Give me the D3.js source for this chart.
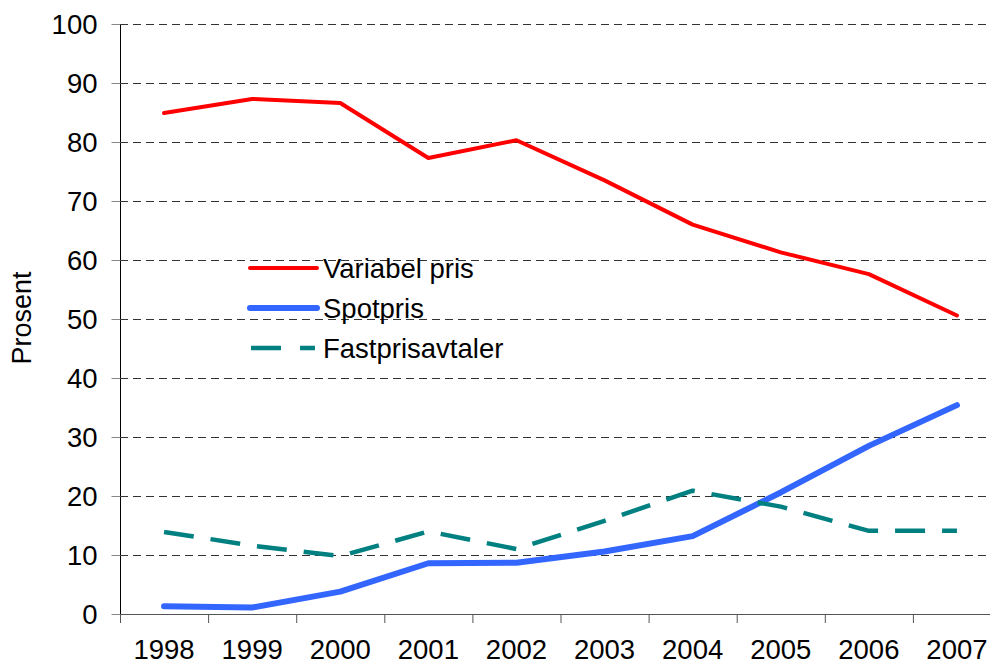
<!DOCTYPE html>
<html>
<head>
<meta charset="utf-8">
<script src="https://cdn.jsdelivr.net/npm/d3@7"></script>
<style>
  body { margin: 0; background: #fff; overflow: hidden; }
  svg { display: block; font-family: "Liberation Sans", Arial, sans-serif; }
</style>
</head>
<body>
<svg id="chart" width="990" height="667"></svg>
<script>
const years = ["1998", "1999", "2000", "2001", "2002", "2003", "2004", "2005", "2006", "2007"];
const variabelPris = [84.9, 87.3, 86.6, 77.3, 80.3, 73.5, 66.0, 61.3, 57.6, 50.6];
const spotpris = [1.3, 1.1, 3.8, 8.6, 8.7, 10.6, 13.2, 20.6, 28.5, 35.4];
const fastpris = [13.9, 11.6, 9.8, 14.0, 11.0, 15.8, 20.9, 18.2, 14.1, 14.1];
const yTicks = [0, 10, 20, 30, 40, 50, 60, 70, 80, 90, 100];

const series = [
  { name: "Variabel pris", values: variabelPris, color: "#ff0000", width: 4, dash: null },
  { name: "Spotpris", values: spotpris, color: "#3366ff", width: 6, dash: null },
  { name: "Fastprisavtaler", values: fastpris, color: "#008080", width: 4.5, dash: "30,17" }
];

const svg = d3.select("#chart");
const margin = { left: 120, top: 24 },
  w = 881,
  h = 590;

const g = svg.append("g").attr("transform", `translate(${margin.left},${margin.top})`);

const x = d3.scaleBand().domain(years).range([0, w]);
const y = d3.scaleLinear().domain([0, 100]).range([h, 0]);

// gridlines
g.append("g")
  .selectAll("line")
  .data(yTicks.filter((d) => d > 0))
  .join("line")
  .attr("x1", 0)
  .attr("x2", w)
  .attr("y1", (d) => y(d) + 0.5)
  .attr("y2", (d) => y(d) + 0.5)
  .attr("stroke", "#333")
  .attr("stroke-width", 1)
  .attr("stroke-dasharray", "8,5");

// y axis
const yAxis = g.append("g")
  .attr("transform", "translate(0.5,0)")
  .call(d3.axisLeft(y).tickValues(yTicks).tickSize(9).tickPadding(14));
yAxis.select(".domain").attr("stroke", "#000").attr("d", `M0,${y(100)}V${y(0)}`);
yAxis.selectAll(".tick line").attr("stroke", "#888");
yAxis.selectAll(".tick text").attr("font-size", 27.5).attr("fill", "#000").attr("dy", "0.35em");

// x axis
const xAxis = g.append("g")
  .attr("transform", `translate(0,${h + 0.5})`)
  .call(d3.axisBottom(x).tickSize(0).tickPadding(36));
xAxis.select(".domain").attr("stroke", "#555").attr("d", `M0,0H${w}`);
xAxis.selectAll(".tick text").attr("font-size", 27.5).attr("fill", "#000").attr("dy", "0.3em");
g.append("g")
  .selectAll("line")
  .data(d3.range(years.length))
  .join("line")
  .attr("x1", (i) => x(years[i]) + 0.5)
  .attr("x2", (i) => x(years[i]) + 0.5)
  .attr("y1", h)
  .attr("y2", h + 9)
  .attr("stroke", "#555");

// lines
const line = d3.line()
  .x((d, i) => x(years[i]) + x.bandwidth() / 2)
  .y((d) => y(d));

series.forEach((s) => {
  g.append("path")
    .datum(s.values)
    .attr("d", line)
    .attr("fill", "none")
    .attr("stroke", s.color)
    .attr("stroke-width", s.width)
    .attr("stroke-dasharray", s.dash)
    .attr("stroke-linejoin", "round")
    .attr("stroke-linecap", s.dash ? "butt" : "round");
});

// y label
svg.append("text")
  .attr("transform", "translate(31,318) rotate(-90)")
  .attr("text-anchor", "middle")
  .attr("font-size", 27)
  .text("Prosent");

// legend
const legend = svg.append("g").attr("transform", "translate(248,268)");
series.forEach((s, i) => {
  const row = legend.append("g").attr("transform", `translate(0,${i * 40})`);
  row.append("line")
    .attr("x1", s.dash ? 3 : 2)
    .attr("x2", s.dash ? 67 : 69)
    .attr("stroke", s.color)
    .attr("stroke-width", s.width)
    .attr("stroke-dasharray", s.dash ? "30,19" : null)
    .attr("stroke-linecap", s.dash ? "butt" : "round");
  row.append("text")
    .attr("x", 75)
    .attr("dy", "0.35em")
    .attr("font-size", 27.5)
    .text(s.name);
});
</script>
</body>
</html>
